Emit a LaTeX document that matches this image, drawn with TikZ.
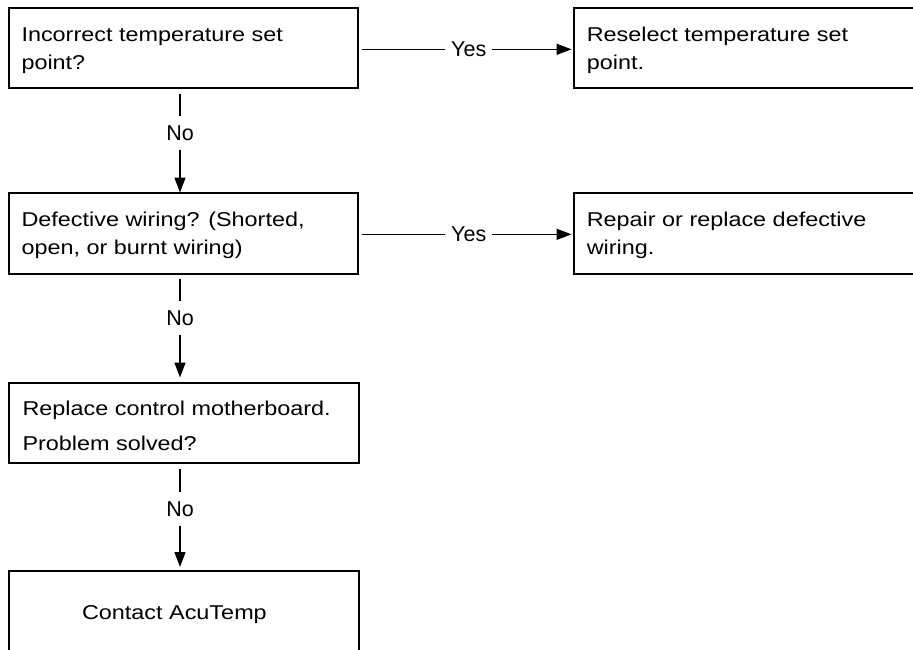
\documentclass[tikz,border=0pt]{standalone}
\usepackage{fontspec}
\setmainfont{Liberation Sans}
\newfontfamily\boxfont{Liberation Sans}[FakeStretch=1.17]
\usetikzlibrary{arrows.meta}
\tikzset{
  box/.style={draw=black, line width=2pt, rectangle, inner sep=0pt, outer sep=0pt, anchor=north west},
  btext/.style={inner sep=0pt, anchor=base west, font=\boxfont\fontsize{20}{28}\selectfont},
  lbl/.style={fill=white, inner xsep=5.8pt, inner ysep=9pt, font=\fontsize{21.5}{24}\selectfont},
  conn/.style={line width=1.6pt, black},
  arr/.style={conn, -{Triangle[length=15pt,width=11pt]}}
}
\begin{document}
\begin{tikzpicture}[x=1pt,y=-1pt]
\useasboundingbox (0,0) rectangle (913,649);
\clip (0,0) rectangle (913,649);
\fill[white] (0,0) rectangle (913,649);
% boxes
\node[box, minimum width=349.5pt, minimum height=80.5pt] (b1) at (8.5,7.5) {};
\node[box, minimum width=360pt, minimum height=80.5pt] (r1) at (573.5,7.5) {};
\node[box, minimum width=349.5pt, minimum height=80.5pt] (b2) at (8.5,193) {};
\node[box, minimum width=360pt, minimum height=80.5pt] (r2) at (573.5,193) {};
\node[box, minimum width=350pt, minimum height=80pt] (b3) at (9,383) {};
\node[box, minimum width=350pt, minimum height=85pt] (b4) at (9,571) {};
% texts
\node[btext] (t1a) at (21.3,41.5) {Incorrect temperature set};
\node[btext] (t1b) at (21.3,69.5) {point?};
\node[btext] (tr1a) at (586.6,41.5) {Reselect temperature set};
\node[btext] (tr1b) at (586.6,69.5) {point.};
\node[btext] (t2a) at (21.3,226.7) {Defective wiring? (Shorted,};
\node[btext] (t2b) at (21.3,254.5) {open, or burnt wiring)};
\node[btext] (tr2a) at (586.6,226.7) {Repair or replace defective};
\node[btext] (tr2b) at (586.6,254.5) {wiring.};
\node[btext] (t3a) at (22.3,415) {Replace control motherboard.};
\node[btext] (t3b) at (22.3,450) {Problem solved?};
\node[btext, anchor=base] (t4) at (174.4,619.3) {Contact AcuTemp};
% column coordinate
\coordinate (colx) at (180,0);
% labels
\node[lbl] (no1) at (180,133) {No};
\node[lbl] (no2) at (180,318) {No};
\node[lbl] (no3) at (180,509) {No};
\node[lbl] (yes1) at (468.7,49.3) {Yes};
\node[lbl] (yes2) at (468.7,234.3) {Yes};
% connectors
\draw[conn, shorten <=6pt] (b1.south -| colx) -- (no1);
\draw[arr, shorten >=0.5pt] (no1) -- (b2.north -| colx);
\draw[conn, shorten <=5pt] (b2.south -| colx) -- (no2);
\draw[arr, shorten >=5.5pt] (no2) -- (b3.north -| colx);
\draw[conn, shorten <=6pt] (b3.south -| colx) -- (no3);
\draw[arr, shorten >=4pt] (no3) -- (b4.north -| colx);
\draw[conn, shorten <=3.5pt] (b1.east |- yes1) -- (yes1);
\draw[arr, shorten >=2pt] (yes1) -- (r1.west |- yes1);
\draw[conn, shorten <=3.5pt] (b2.east |- yes2) -- (yes2);
\draw[arr, shorten >=2pt] (yes2) -- (r2.west |- yes2);
\end{tikzpicture}
\end{document}
